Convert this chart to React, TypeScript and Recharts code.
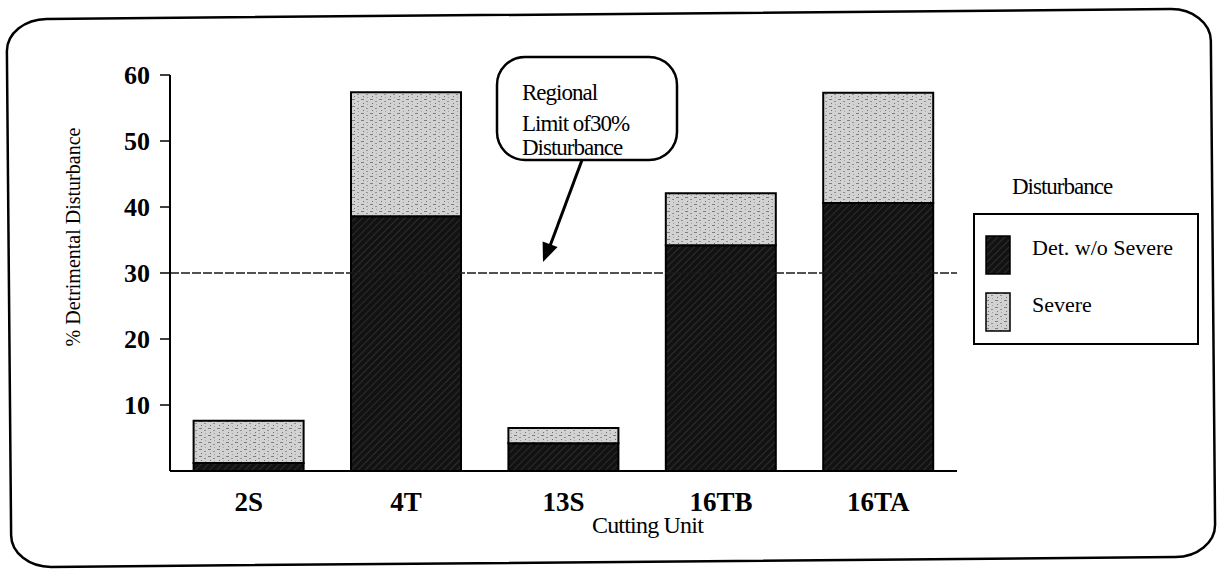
import React from 'react';
import { BarChart, Bar, XAxis, YAxis, ReferenceLine, Legend } from 'recharts';

const categories = ['2S', '4T', '13S', '16TB', '16TA'];
const detWithoutSevere = [1.2, 38.6, 4.2, 34.2, 40.6];
const severe = [6.4, 18.8, 2.3, 7.9, 16.7];
const yTicks = [10, 20, 30, 40, 50, 60];
const regionalLimit = 30;

const data = categories.map((unit, i) => ({
  unit,
  det: detWithoutSevere[i],
  severe: severe[i],
}));

const FONT = '"Liberation Serif", "Times New Roman", serif';

const YTitle = (props: any) => {
  const { viewBox } = props;
  const cx = viewBox.x + 13;
  const cy = viewBox.y + viewBox.height / 2 - 36;
  return (
    <text x={cx} y={cy} transform={`rotate(-90 ${cx} ${cy})`} textAnchor="middle" dominantBaseline="central"
      fontSize={20} fontFamily={FONT} fill="#000">
      % Detrimental Disturbance
    </text>
  );
};

const XTitle = (props: any) => {
  const { viewBox } = props;
  const cx = viewBox.x + viewBox.width / 2 + 84;
  return (
    <text x={cx} y={viewBox.y + 62} textAnchor="middle" fontSize={24} letterSpacing={-0.8} fontFamily={FONT} fill="#000">
      Cutting Unit
    </text>
  );
};

const renderLegend = (props: any) => {
  const items = props.payload || [];
  return (
    <div style={{ width: 226, fontFamily: FONT, color: '#000' }}>
      <div style={{ paddingLeft: 39, fontSize: 23, lineHeight: '24px', letterSpacing: -1, height: 24 }}>Disturbance</div>
      <div style={{ marginTop: 14, height: 128, border: '2px solid #000', boxSizing: 'content-box' }}>
        {items.map((it: any, i: number) => (
          <div key={i} style={{ display: 'flex', alignItems: 'flex-start', marginTop: i === 0 ? 20 : 19, height: 38 }}>
            <svg width={26} height={40} style={{ marginLeft: 10, display: 'block' }}>
              <rect x={1} y={1} width={24} height={38} fill={it.color} stroke="#000" strokeWidth={1.5} />
            </svg>
            <span style={{ marginLeft: 21, fontSize: 22, lineHeight: '26px' }}>{it.value}</span>
          </div>
        ))}
      </div>
    </div>
  );
};

export default function App() {
  return (
    <div style={{ position: 'absolute', left: 0, top: 0, width: 1220, height: 571, background: '#fff' }}>
      <BarChart width={1220} height={571} data={data} margin={{ top: 75, right: 263, bottom: 40, left: 60 }}
        barCategoryGap="15%" style={{ fontFamily: FONT }}>
        <defs>
          <pattern id="darkFill" width="5" height="5" patternUnits="userSpaceOnUse" patternTransform="rotate(45)">
            <rect width="5" height="5" fill="#121212" />
            <line x1="0" y1="0" x2="0" y2="5" stroke="#474747" strokeWidth="1" />
          </pattern>
          <pattern id="lightFill" width="9" height="7" patternUnits="userSpaceOnUse">
            <rect width="9" height="7" fill="#d2d2d2" />
            <rect x="1" y="1" width="3" height="1" fill="#7e7e7e" />
            <rect x="6" y="3" width="2" height="1" fill="#8f8f8f" />
            <rect x="3" y="5" width="1" height="1" fill="#6f6f6f" />
            <rect x="7" y="6" width="1" height="1" fill="#a0a0a0" />
          </pattern>
        </defs>
        <XAxis dataKey="unit" height={60} tickLine={false} axisLine={{ stroke: '#000', strokeWidth: 2 }}
          tickMargin={15} tick={{ fontSize: 27, fill: '#000', fontFamily: FONT, fontWeight: 600 }} interval={0}
          label={<XTitle />} />
        <YAxis width={110} domain={[0, 60]} ticks={yTicks} tickSize={10} tickMargin={10}
          axisLine={{ stroke: '#000', strokeWidth: 2 }} tickLine={{ stroke: '#000', strokeWidth: 1.5 }}
          tick={{ fontSize: 26, fill: '#000', fontFamily: FONT, fontWeight: 600 }} label={<YTitle />} />
        <ReferenceLine y={regionalLimit} stroke="#1a1a1a" strokeWidth={1.3} strokeDasharray="9 2" />
        <Bar dataKey="det" name="Det. w/o Severe" stackId="a" fill="url(#darkFill)" stroke="#000" strokeWidth={2}
          isAnimationActive={false} />
        <Bar dataKey="severe" name="Severe" stackId="a" fill="url(#lightFill)" stroke="#000" strokeWidth={2}
          isAnimationActive={false} />
        <Legend layout="horizontal" verticalAlign="middle" align="center" content={renderLegend}
          wrapperStyle={{ left: 973, top: 175, width: 226, height: 180 }} />
      </BarChart>
      <svg width={1220} height={571} style={{ position: 'absolute', left: 0, top: 0, pointerEvents: 'none' }}>
        <g transform="rotate(-0.5 610 290)">
          <rect x={9} y={14} width={1204} height={548} rx={40} ry={32} fill="none" stroke="#000" strokeWidth={2.5} />
        </g>
        <rect x={497} y={57} width={180} height={103} rx={28} fill="#fff" stroke="#000" strokeWidth={2.5} />
        <text fontFamily={FONT} fontSize={23} letterSpacing={-1} fill="#000">
          <tspan x={522} y={100}>Regional</tspan>
          <tspan x={522} y={131}>Limit of30%</tspan>
          <tspan x={522} y={155}>Disturbance</tspan>
        </text>
        <line x1={582} y1={160} x2={550} y2={246} stroke="#000" strokeWidth={3} />
        <polygon points="543,262 557.6,247 542.6,241.5" fill="#000" />
      </svg>
    </div>
  );
}
